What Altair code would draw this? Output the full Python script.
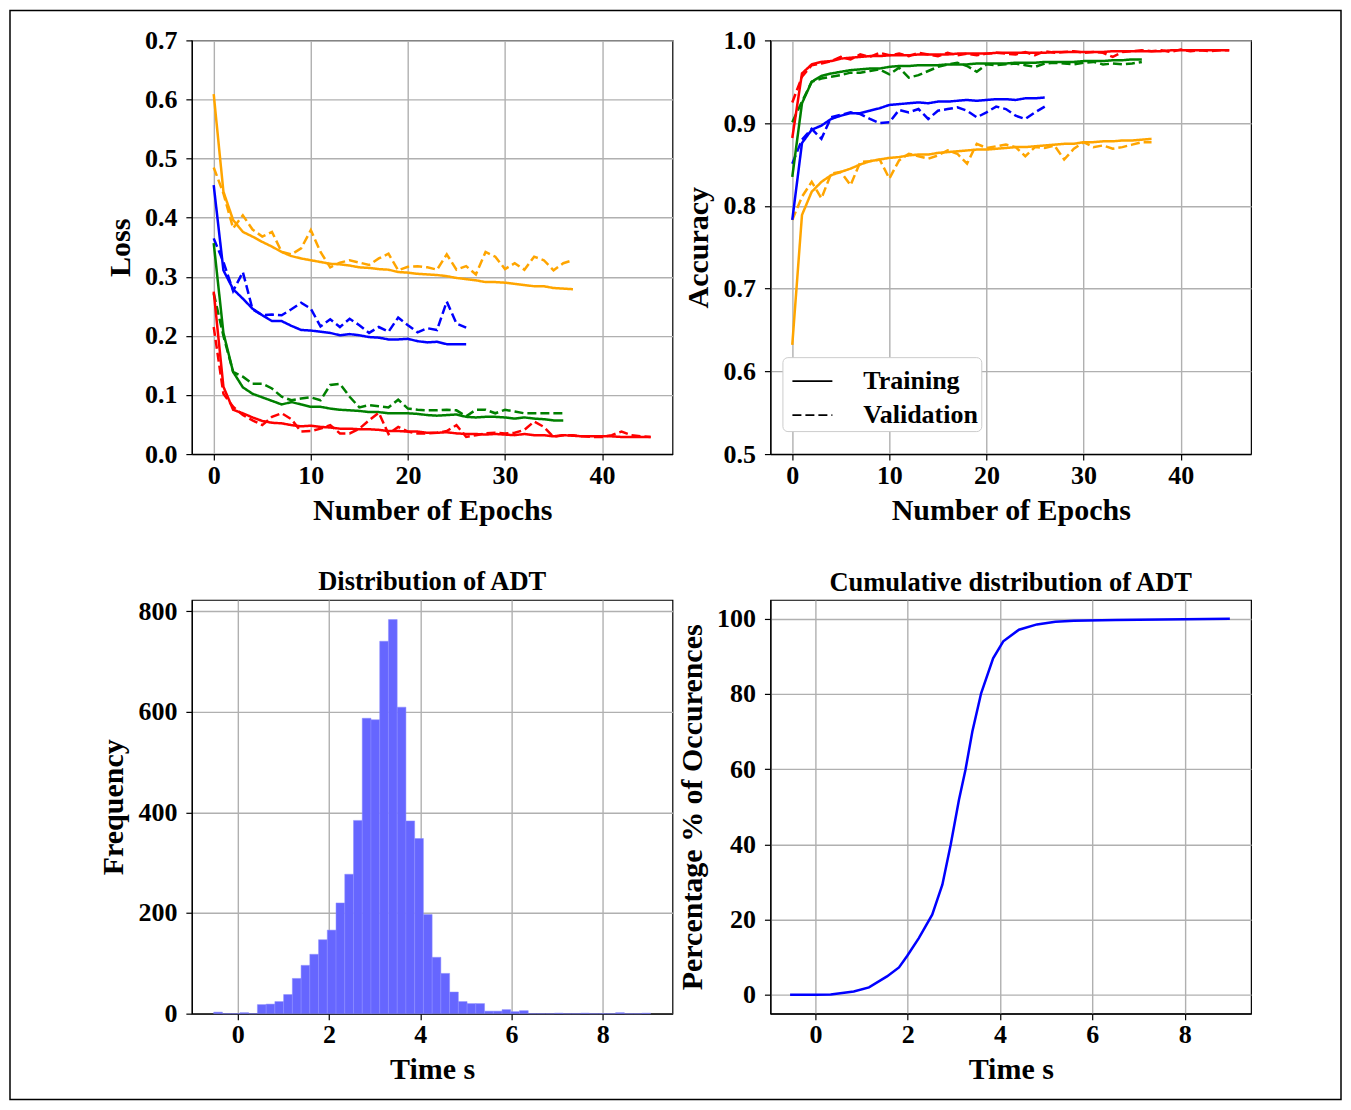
import altair as alt
import pandas as pd

# ---------------- data ----------------
model_names = ["M1", "M2", "M3", "M4"]
model_colors = ["#ffa500", "#0000ff", "#008000", "#ff0000"]
kinds = ["Training", "Validation"]

orange_train_loss = [0.609,0.444,0.396,0.376,0.368,0.359,0.351,0.342,0.335,0.331,0.328,0.325,0.322,0.321,0.319,0.316,0.315,0.313,0.312,0.308,0.307,0.305,0.304,0.303,0.301,0.298,0.296,0.294,0.291,0.291,0.290,0.288,0.286,0.284,0.284,0.281,0.280,0.279]
orange_val_loss = [0.485,0.441,0.382,0.404,0.380,0.368,0.376,0.342,0.338,0.348,0.379,0.342,0.316,0.324,0.328,0.324,0.320,0.331,0.339,0.311,0.317,0.318,0.316,0.312,0.338,0.312,0.318,0.304,0.342,0.334,0.313,0.323,0.312,0.334,0.328,0.311,0.323,0.328]
blue_train_loss = [0.455,0.311,0.279,0.263,0.246,0.235,0.225,0.225,0.217,0.210,0.209,0.207,0.205,0.201,0.203,0.201,0.198,0.197,0.194,0.194,0.195,0.191,0.189,0.190,0.186,0.186,0.186]
blue_val_loss = [0.365,0.325,0.276,0.308,0.245,0.235,0.236,0.235,0.245,0.256,0.246,0.216,0.228,0.215,0.229,0.218,0.205,0.215,0.207,0.231,0.218,0.206,0.213,0.210,0.258,0.221,0.214]
green_train_loss = [0.357,0.205,0.139,0.113,0.102,0.096,0.090,0.084,0.088,0.084,0.080,0.080,0.077,0.075,0.074,0.073,0.071,0.071,0.069,0.069,0.069,0.068,0.066,0.065,0.066,0.067,0.063,0.062,0.063,0.063,0.062,0.060,0.062,0.060,0.059,0.057,0.057]
green_val_loss = [0.272,0.200,0.139,0.131,0.119,0.119,0.111,0.097,0.091,0.094,0.096,0.091,0.117,0.119,0.097,0.079,0.083,0.081,0.079,0.092,0.077,0.075,0.074,0.074,0.075,0.074,0.064,0.075,0.075,0.069,0.075,0.072,0.069,0.069,0.069,0.069,0.069]
red_train_loss = [0.275,0.114,0.075,0.069,0.062,0.056,0.053,0.052,0.049,0.047,0.048,0.046,0.045,0.043,0.043,0.042,0.042,0.041,0.039,0.039,0.038,0.038,0.036,0.036,0.037,0.035,0.034,0.034,0.033,0.034,0.033,0.032,0.034,0.032,0.032,0.030,0.032,0.031,0.030,0.030,0.030,0.030,0.029,0.029,0.029,0.029]
red_val_loss = [0.215,0.102,0.080,0.066,0.057,0.049,0.063,0.069,0.059,0.038,0.039,0.043,0.049,0.035,0.035,0.043,0.057,0.070,0.034,0.046,0.038,0.035,0.035,0.036,0.039,0.049,0.029,0.032,0.035,0.036,0.035,0.036,0.041,0.055,0.046,0.029,0.032,0.032,0.030,0.029,0.029,0.032,0.038,0.032,0.030,0.029]

orange_train_acc = [0.632,0.789,0.817,0.829,0.837,0.841,0.845,0.850,0.854,0.856,0.858,0.859,0.861,0.862,0.862,0.864,0.865,0.866,0.867,0.868,0.868,0.869,0.870,0.871,0.871,0.872,0.873,0.874,0.875,0.875,0.877,0.877,0.878,0.878,0.879,0.879,0.880,0.881]
orange_val_acc = [0.783,0.811,0.829,0.809,0.839,0.841,0.825,0.853,0.854,0.856,0.833,0.855,0.863,0.860,0.857,0.861,0.867,0.863,0.851,0.875,0.870,0.872,0.874,0.871,0.860,0.871,0.870,0.873,0.856,0.869,0.877,0.871,0.873,0.869,0.871,0.874,0.877,0.877]
blue_train_acc = [0.783,0.876,0.892,0.897,0.905,0.909,0.912,0.912,0.915,0.918,0.922,0.923,0.924,0.925,0.924,0.926,0.926,0.927,0.928,0.927,0.928,0.929,0.929,0.928,0.930,0.930,0.931]
blue_val_acc = [0.851,0.880,0.893,0.881,0.907,0.910,0.913,0.911,0.905,0.900,0.901,0.916,0.913,0.917,0.905,0.915,0.917,0.919,0.915,0.907,0.913,0.920,0.917,0.909,0.905,0.913,0.920]
green_train_acc = [0.835,0.924,0.950,0.957,0.960,0.962,0.964,0.965,0.966,0.966,0.968,0.969,0.969,0.970,0.970,0.970,0.971,0.971,0.971,0.972,0.972,0.972,0.972,0.973,0.973,0.973,0.974,0.974,0.974,0.974,0.975,0.975,0.975,0.976,0.976,0.977,0.977]
green_val_acc = [0.901,0.926,0.950,0.954,0.956,0.958,0.961,0.961,0.963,0.965,0.959,0.967,0.955,0.958,0.963,0.968,0.971,0.973,0.969,0.962,0.971,0.970,0.971,0.972,0.970,0.968,0.972,0.973,0.972,0.971,0.973,0.974,0.971,0.972,0.971,0.972,0.974]
red_train_acc = [0.882,0.960,0.971,0.974,0.975,0.978,0.979,0.980,0.981,0.981,0.982,0.982,0.982,0.983,0.983,0.983,0.983,0.984,0.984,0.984,0.984,0.985,0.985,0.985,0.985,0.985,0.985,0.986,0.986,0.986,0.986,0.986,0.986,0.987,0.987,0.987,0.987,0.987,0.987,0.988,0.988,0.988,0.988,0.988,0.988,0.988]
red_val_acc = [0.925,0.956,0.970,0.972,0.975,0.980,0.977,0.983,0.980,0.985,0.982,0.984,0.981,0.985,0.983,0.981,0.985,0.982,0.984,0.982,0.984,0.985,0.984,0.983,0.986,0.982,0.987,0.985,0.986,0.987,0.985,0.986,0.985,0.980,0.986,0.987,0.988,0.987,0.988,0.986,0.989,0.987,0.988,0.987,0.988,0.988]

# histogram of ADT (50 bins)
hist_start = -0.526
hist_width = 0.1915
hist_counts = [3,0,0,2,0,18,19,24,38,70,96,118,147,166,220,277,384,587,584,740,783,609,383,348,197,112,80,43,24,20,20,5,5,8,4,6,0,0,0,1,0,0,1,0,0,0,2,0,0,1]

# cumulative distribution of ADT
cdf_time = [-0.55,0.0,0.33,0.83,1.16,1.55,1.81,1.99,2.24,2.53,2.75,2.93,3.11,3.25,3.40,3.59,3.85,4.07,4.41,4.80,5.20,5.60,6.50,7.50,8.98]
cdf_pct = [0.0,0.0,0.1,0.9,2.0,4.9,7.3,10.4,15.1,21.3,29.3,39.9,51.9,59.8,70.0,80.2,89.5,94.0,97.1,98.5,99.2,99.5,99.7,99.8,100.0]

# ---------------- tables ----------------
def long_table(series):
    rows = []
    for model, kind, vals in series:
        for e, v in enumerate(vals):
            rows.append({"model": model, "kind": kind, "epoch": e, "value": v})
    return pd.DataFrame(rows)

loss_df = long_table([
    ("M1", "Training", orange_train_loss), ("M1", "Validation", orange_val_loss),
    ("M2", "Training", blue_train_loss), ("M2", "Validation", blue_val_loss),
    ("M3", "Training", green_train_loss), ("M3", "Validation", green_val_loss),
    ("M4", "Training", red_train_loss), ("M4", "Validation", red_val_loss),
])
acc_df = long_table([
    ("M1", "Training", orange_train_acc), ("M1", "Validation", orange_val_acc),
    ("M2", "Training", blue_train_acc), ("M2", "Validation", blue_val_acc),
    ("M3", "Training", green_train_acc), ("M3", "Validation", green_val_acc),
    ("M4", "Training", red_train_acc), ("M4", "Validation", red_val_acc),
])
hist_df = pd.DataFrame({
    "start": [hist_start + i * hist_width for i in range(len(hist_counts))],
    "end": [hist_start + (i + 1) * hist_width for i in range(len(hist_counts))],
    "count": hist_counts,
})
cdf_df = pd.DataFrame({"time": cdf_time, "pct": cdf_pct})

FONT = "Liberation Serif"
W, H = 481, 414

color_enc = alt.Color("model:N", scale=alt.Scale(domain=model_names, range=model_colors), legend=None)
dash_scale = alt.Scale(domain=kinds, range=[[1, 0], [9, 4]])
epoch_x = alt.X("epoch:Q", scale=alt.Scale(domain=[-2.25, 47.25], nice=False, zero=False),
                axis=alt.Axis(values=[0, 10, 20, 30, 40], title="Number of Epochs"))

loss_lines = alt.Chart(loss_df).mark_line(strokeWidth=2.5, clip=True).encode(
    x=epoch_x,
    y=alt.Y("value:Q", scale=alt.Scale(domain=[0, 0.7], nice=False),
            axis=alt.Axis(values=[0, 0.1, 0.2, 0.3, 0.4, 0.5, 0.6, 0.7], format=".1f", title="Loss")),
    color=color_enc,
    strokeDash=alt.StrokeDash("kind:N", scale=dash_scale, legend=None),
)

# thin border drawn around the whole figure (decoration, as in the reference image)
frame = alt.Chart(pd.DataFrame({"f": [0]})).mark_rect(
    filled=False, stroke="black", strokeWidth=1.5
).encode(
    x=alt.value(-182), x2=alt.value(1150), y=alt.value(-30), y2=alt.value(1060)
)

loss_chart = alt.layer(frame, loss_lines).properties(width=W, height=H)

acc_chart = alt.Chart(acc_df).mark_line(strokeWidth=2.5, clip=True).encode(
    x=epoch_x,
    y=alt.Y("value:Q", scale=alt.Scale(domain=[0.5, 1.0], nice=False, zero=False),
            axis=alt.Axis(values=[0.5, 0.6, 0.7, 0.8, 0.9, 1.0], format=".1f", title="Accuracy")),
    color=color_enc,
    strokeDash=alt.StrokeDash("kind:N", scale=dash_scale, legend=alt.Legend(
        title=None, orient="none", legendX=12, legendY=317,
        symbolType="stroke", symbolStrokeColor="black", symbolStrokeWidth=1.6,
        symbolSize=1600, symbolOffset=6, labelFont=FONT, labelFontSize=26,
        labelFontWeight="bold", labelColor="black", labelOffset=30,
        fillColor="white", strokeColor="#cccccc", cornerRadius=5,
        padding=3, rowPadding=-5)),
).properties(width=W, height=H)

hist_chart = alt.Chart(hist_df).mark_rect(color="#6666ff", stroke="#8c8cff", strokeWidth=0.5).encode(
    x=alt.X("start:Q", scale=alt.Scale(domain=[-1.005, 9.53], nice=False, zero=False),
            axis=alt.Axis(values=[0, 2, 4, 6, 8], title="Time s")),
    x2="end:Q",
    y=alt.Y("count:Q", scale=alt.Scale(domain=[0, 822], nice=False),
            axis=alt.Axis(values=[0, 200, 400, 600, 800], title="Frequency")),
    y2=alt.Y2(datum=0),
).properties(width=W, height=H, title="Distribution of ADT")

cdf_chart = alt.Chart(cdf_df).mark_line(color="#0000ff", strokeWidth=2.5).encode(
    x=alt.X("time:Q", scale=alt.Scale(domain=[-0.976, 9.44], nice=False, zero=False),
            axis=alt.Axis(values=[0, 2, 4, 6, 8], title="Time s")),
    y=alt.Y("pct:Q", scale=alt.Scale(domain=[-5, 105], nice=False, zero=False),
            axis=alt.Axis(values=[0, 20, 40, 60, 80, 100], title="Percentage % of Occurences")),
).properties(width=W, height=H, title="Cumulative distribution of ADT")

chart = alt.concat(
    loss_chart, acc_chart, hist_chart, cdf_chart,
    columns=2, spacing={"row": 146, "column": 98}, bounds="flush",
).resolve_scale(
    color="independent", strokeDash="independent"
).properties(
    padding={"left": 0, "top": 0, "right": 0, "bottom": 0}
).configure(
    font=FONT,
).configure_axis(
    labelFont=FONT, labelFontSize=26, labelFontWeight="bold", labelColor="black",
    titleFont=FONT, titleFontSize=30, titleFontWeight="bold", titleColor="black",
    tickColor="black", tickSize=6, tickWidth=1.2,
    domainColor="black", domainWidth=1.2,
    gridColor="#b0b0b0", gridWidth=1.4,
).configure_axisX(
    labelPadding=2, titlePadding=7,
).configure_axisY(
    labelPadding=9, titlePadding=9,
).configure_view(
    stroke="black", strokeWidth=1.2,
).configure_title(
    font=FONT, fontSize=26.5, fontWeight="bold", color="black", offset=3,
)

chart.save("out.html", embed_options={"renderer": "svg", "actions": False})
